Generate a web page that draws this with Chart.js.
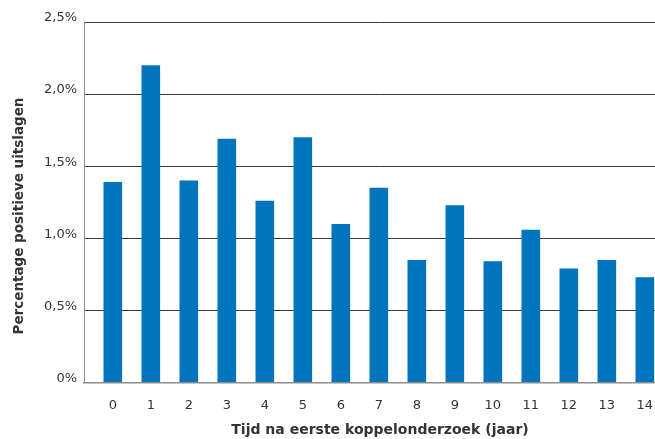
<!DOCTYPE html>
<html>
<head>
<meta charset="utf-8">
<script src="https://cdn.jsdelivr.net/npm/chart.js@4.4.1/dist/chart.umd.min.js"></script>
<style>
  html, body { margin: 0; padding: 0; background: #fff; overflow: hidden; }
  #wrap { width: 676px; height: 439px; }
</style>
</head>
<body>
<div id="wrap"><canvas id="chart" width="676" height="439"></canvas></div>
<script>
// ── Data ──
const years = [0, 1, 2, 3, 4, 5, 6, 7, 8, 9, 10, 11, 12, 13, 14];
const positivePct = [1.39, 2.20, 1.40, 1.69, 1.26, 1.70, 1.10, 1.35, 0.85, 1.23, 0.84, 1.06, 0.79, 0.85, 0.73];
const yTicks = [0, 0.5, 1.0, 1.5, 2.0, 2.5];

const xTitle = "Tijd na eerste koppelonderzoek (jaar)";
const yTitle = "Percentage positieve uitslagen";

const tickFont = { family: "'DejaVu Sans', sans-serif", size: 13 };

// axis titles drawn at the positions used in the source figure
const axisTitles = {
    id: "axisTitles",
    afterDraw(chart) {
        const ctx = chart.ctx;
        ctx.save();
        ctx.fillStyle = "#333";
        ctx.textAlign = "center";
        ctx.textBaseline = "middle";
        ctx.font = "bold 14px 'DejaVu Sans', sans-serif";
        ctx.fillText(xTitle, 380, 430);
        ctx.font = "bold 13.5px 'DejaVu Sans', sans-serif";
        ctx.translate(19, 216);
        ctx.rotate(-Math.PI / 2);
        ctx.fillText(yTitle, 0, 0);
        ctx.restore();
    }
};

new Chart(document.getElementById("chart"), {
    type: "bar",
    data: {
        datasets: [{
            data: years.map((y, i) => ({ x: y, y: positivePct[i] })),
            backgroundColor: "#0075BD",
            barPercentage: 0.49,
            categoryPercentage: 1.0
        }]
    },
    options: {
        responsive: false,
        animation: false,
        layout: { padding: { top: 22, left: 0, right: 0, bottom: 0 } },
        plugins: {
            legend: { display: false },
            tooltip: { enabled: false }
        },
        scales: {
            x: {
                type: "linear",
                offset: false,
                min: -0.758,
                max: 14.82,
                afterFit: s => { s.height = 56.5; },
                grid: { display: false, drawTicks: false },
                border: { color: "#8c8c8c", width: 1.5 },
                ticks: {
                    stepSize: 1,
                    includeBounds: false,
                    padding: 15,
                    color: "#333",
                    font: tickFont,
                    callback: v => String(v)
                }
            },
            y: {
                min: 0,
                max: 2.5,
                afterFit: s => { s.width = 84; },
                afterBuildTicks: s => { s.ticks = yTicks.map(v => ({ value: v })); },
                grid: {
                    drawTicks: false,
                    color: c => c.tick && c.tick.value === 0 ? "rgba(0,0,0,0)" : "#3a3a3a",
                    lineWidth: 1
                },
                border: { color: "#8c8c8c", width: 1 },
                ticks: {
                    padding: 7,
                    labelOffset: -4,
                    color: "#333",
                    font: tickFont,
                    callback: v => v === 0 ? "0%" : v.toFixed(1).replace(".", ",") + "%"
                }
            }
        }
    },
    plugins: [axisTitles]
});
</script>
</body>
</html>
